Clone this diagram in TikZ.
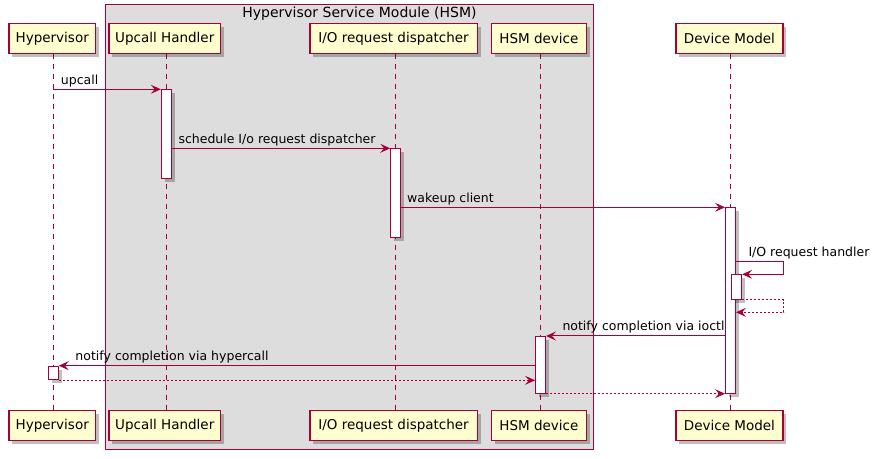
\documentclass[tikz,border=0pt]{standalone}
\usepackage{fontspec}
\setmainfont{DejaVu Sans}
\usetikzlibrary{arrows.meta,shadows,calc}
\definecolor{pborder}{HTML}{A80036}
\definecolor{pfill}{HTML}{FEFECE}
\definecolor{boxbg}{HTML}{DDDDDD}
\pgfdeclarelayer{bg}
\pgfsetlayers{bg,main}
\tikzset{
  shadowed/.style={drop shadow={shadow xshift=3.5bp, shadow yshift=-3.5bp, fill=black, opacity=0.25}},
  part/.style={draw=pborder, line width=1.2bp, fill=pfill, minimum height=30bp, inner sep=0pt,
    font=\fontsize{13.5bp}{16bp}\selectfont, text=black, shadowed, anchor=north west},
  lifeline/.style={draw=pborder, dash pattern=on 5bp off 5bp, line width=0.9bp},
  actbar/.style={draw=pborder, fill=white, line width=1bp, minimum width=10bp, inner sep=0pt, shadowed, anchor=north},
  msg/.style={draw=pborder, line width=1bp, -{Stealth[length=10bp,width=9bp,inset=4bp]}},
  ret/.style={msg, dash pattern=on 2bp off 2bp},
  lbl/.style={font=\fontsize{12.5bp}{15bp}\selectfont, inner sep=0pt, text=black, anchor=base west},
}
\begin{document}
\begin{tikzpicture}[x=1bp,y=-1bp]
\useasboundingbox (0,0) rectangle (881,459);

% HSM group box
\begin{pgfonlayer}{bg}
\node[draw=pborder, fill=boxbg, line width=1bp, minimum width=488.8bp, minimum height=444.8bp,
      inner sep=0pt, anchor=north west] (hsmbox) at (104.5,4.5) {};
\end{pgfonlayer}
\node[font=\fontsize{14bp}{16bp}\selectfont, inner sep=0pt, anchor=base] (hsmtitle) at (359.5,17.5) {Hypervisor Service Module (HSM)};

% participants (top)
\node[part, minimum width=86.7bp]  (hvT)  at (8.3,23.3)   {Hypervisor};
\node[part, minimum width=111.7bp] (uhT)  at (108.3,23.3) {Upcall Handler};
\node[part, minimum width=167.4bp] (iodT) at (309.3,23.3) {I/O request dispatcher};
\node[part, minimum width=94.7bp]  (hsmT) at (491,23.3)   {HSM device};
\node[part, minimum width=107bp]   (dmT)  at (675.3,23.3) {Device Model};

% participants (bottom)
\node[part, minimum width=86.7bp]  (hvB)  at (8.3,410)   {Hypervisor};
\node[part, minimum width=111.7bp] (uhB)  at (108.3,410) {Upcall Handler};
\node[part, minimum width=167.4bp] (iodB) at (309.3,410) {I/O request dispatcher};
\node[part, minimum width=94.7bp]  (hsmB) at (491,410)   {HSM device};
\node[part, minimum width=107bp]   (dmB)  at (675.3,410) {Device Model};

% activation bars
\node[actbar, minimum height=89bp]   (actUH)  at (166.3,89.3)  {};
\node[actbar, minimum height=89bp]   (actIOD) at (395.7,148.3) {};
\node[actbar, minimum height=185.4bp](actDM)  at (730.5,207.3) {};
\node[actbar, minimum height=24.7bp] (actDM2) at (736.7,274.3) {};
\node[actbar, minimum height=56.7bp] (actHSM) at (540.5,336)   {};
\node[actbar, minimum height=13.6bp] (actHV)  at (53.3,365.7)  {};

% lifelines
\begin{pgfonlayer}{bg}
\draw[lifeline] (hvT.south -| actHV)   -- (hvB.north -| actHV);
\draw[lifeline] (uhT.south -| actUH)   -- (uhB.north -| actUH);
\draw[lifeline] (iodT.south -| actIOD) -- (iodB.north -| actIOD);
\draw[lifeline] (hsmT.south -| actHSM) -- (hsmB.north -| actHSM);
\draw[lifeline] (dmT.south -| actDM)   -- (dmB.north -| actDM);
\end{pgfonlayer}

% messages
\draw[msg] (actHV |- actUH.north west) -- (actUH.north west);
\node[lbl] (l1) at (60.7,84.3) {upcall};

\draw[msg] (actUH.east |- actIOD.north west) -- (actIOD.north west);
\node[lbl] (l2) at (178.3,143.3) {schedule I/o request dispatcher};

\draw[msg] (actIOD.east |- actDM.north west) -- (actDM.north west);
\node[lbl] (l3) at (407,202.3) {wakeup client};

\draw[msg] ([yshift=13bp]actDM2.north -| actDM.east) -- ++(47.8,0) |- (actDM2.north east);
\node[lbl] (l4) at (748.3,256.3) {I/O request handler};

\draw[ret] (actDM2.south east) -- ++(41.6,0) |- ([yshift=-12.3bp]actDM2.south -| actDM.east);

\draw[msg] (actDM.west |- actHSM.north east) -- (actHSM.north east);
\node[lbl] (l5) at (562.3,331) {notify completion via ioctl};

\draw[msg] (actHSM.west |- actHV.north east) -- (actHV.north east);
\node[lbl] (l6) at (75.3,360.7) {notify completion via hypercall};

\draw[ret] (actHV.south east) -- (actHSM.west |- actHV.south east);
\draw[ret] (actHSM.south east) -- (actDM.west |- actHSM.south east);
\end{tikzpicture}
\end{document}
